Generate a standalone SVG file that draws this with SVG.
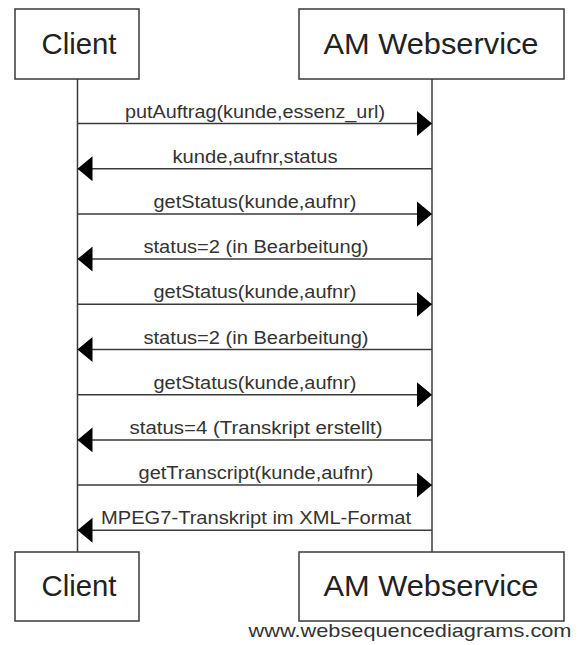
<svg xmlns="http://www.w3.org/2000/svg" width="582" height="645" viewBox="0 0 582 645">
<style>
.box{fill:#fff;stroke:#3a3a3a;stroke-width:1.5}
.life{stroke:#3a3a3a;stroke-width:1.5}
.msg{stroke:#3a3a3a;stroke-width:1.5;fill:none;marker-end:url(#ah)}
.pt{font-family:"Liberation Sans",Arial,sans-serif;font-size:30px;fill:#222;text-anchor:middle}
.lb{font-family:"Liberation Sans",Arial,sans-serif;font-size:17.5px;fill:#333;text-anchor:middle}
.wm{font-family:"Liberation Sans",Arial,sans-serif;font-size:19px;fill:#333;text-anchor:middle}
</style>
<defs>
<marker id="ah" markerUnits="userSpaceOnUse" markerWidth="16" markerHeight="26" refX="15" refY="12.5" orient="auto" viewBox="0 0 16 26">
<path d="M0,0 L15,12.5 L0,25 Z" fill="#000"/>
</marker>
</defs>
<rect width="582" height="645" fill="#fff"/>
<g id="lifelines">
<line class="life" x1="77.5" y1="79" x2="77.5" y2="552"/>
<line class="life" x1="432" y1="79" x2="432" y2="552"/>
</g>
<g id="client-top">
<rect class="box" x="15" y="9" width="124" height="70"/>
<text class="pt" x="79" y="54" textLength="75" lengthAdjust="spacingAndGlyphs">Client</text>
</g>
<g id="am-top">
<rect class="box" x="299" y="9" width="265" height="70"/>
<text class="pt" x="431" y="54" textLength="215" lengthAdjust="spacingAndGlyphs">AM Webservice</text>
</g>
<g id="client-bottom">
<rect class="box" x="15" y="552" width="124" height="69"/>
<text class="pt" x="79" y="596" textLength="75" lengthAdjust="spacingAndGlyphs">Client</text>
</g>
<g id="am-bottom">
<rect class="box" x="299" y="552" width="265" height="69"/>
<text class="pt" x="431" y="596" textLength="215" lengthAdjust="spacingAndGlyphs">AM Webservice</text>
</g>
<g id="connectors">
<line class="msg" x1="77.5" y1="123.5" x2="432" y2="123.5"/>
<line class="msg" x1="432" y1="168.7" x2="77.5" y2="168.7"/>
<line class="msg" x1="77.5" y1="213.9" x2="432" y2="213.9"/>
<line class="msg" x1="432" y1="259.1" x2="77.5" y2="259.1"/>
<line class="msg" x1="77.5" y1="304.3" x2="432" y2="304.3"/>
<line class="msg" x1="432" y1="349.5" x2="77.5" y2="349.5"/>
<line class="msg" x1="77.5" y1="394.7" x2="432" y2="394.7"/>
<line class="msg" x1="432" y1="439.9" x2="77.5" y2="439.9"/>
<line class="msg" x1="77.5" y1="485.1" x2="432" y2="485.1"/>
<line class="msg" x1="432" y1="530.3" x2="77.5" y2="530.3"/>
</g>
<g id="labels">
<text class="lb" x="255" y="117.5" textLength="260" lengthAdjust="spacingAndGlyphs">putAuftrag(kunde,essenz_url)</text>
<text class="lb" x="255" y="162.7" textLength="165" lengthAdjust="spacingAndGlyphs">kunde,aufnr,status</text>
<text class="lb" x="255" y="207.9" textLength="203" lengthAdjust="spacingAndGlyphs">getStatus(kunde,aufnr)</text>
<text class="lb" x="256" y="253.1" textLength="225" lengthAdjust="spacingAndGlyphs">status=2 (in Bearbeitung)</text>
<text class="lb" x="255" y="298.3" textLength="203" lengthAdjust="spacingAndGlyphs">getStatus(kunde,aufnr)</text>
<text class="lb" x="256" y="343.5" textLength="225" lengthAdjust="spacingAndGlyphs">status=2 (in Bearbeitung)</text>
<text class="lb" x="255" y="388.7" textLength="203" lengthAdjust="spacingAndGlyphs">getStatus(kunde,aufnr)</text>
<text class="lb" x="256" y="433.9" textLength="253" lengthAdjust="spacingAndGlyphs">status=4 (Transkript erstellt)</text>
<text class="lb" x="256" y="479.1" textLength="235" lengthAdjust="spacingAndGlyphs">getTranscript(kunde,aufnr)</text>
<text class="lb" x="256" y="524.3" textLength="310" lengthAdjust="spacingAndGlyphs">MPEG7-Transkript im XML-Format</text>
</g>
<text class="wm" x="410" y="637" textLength="323" lengthAdjust="spacingAndGlyphs">www.websequencediagrams.com</text>
</svg>
